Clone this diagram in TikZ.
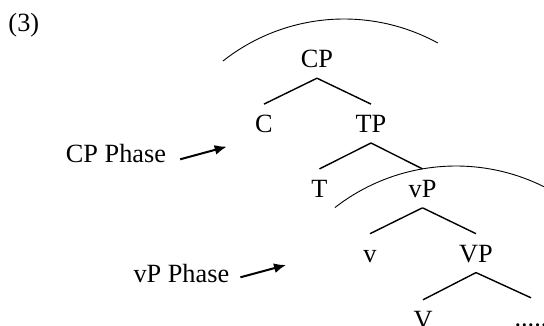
\documentclass[tikz,border=0pt]{standalone}
\usepackage{fontspec}
\setmainfont{Liberation Serif}
\usetikzlibrary{arrows.meta,positioning,calc}
\definecolor{ink}{HTML}{000000}
\tikzset{
  cat/.style={inner xsep=0pt,inner ysep=10pt,text height=18.5pt,text depth=0pt,anchor=base,text=ink,font=\fontsize{26.3}{30}\selectfont},
  branch/.style={draw=ink,line width=1.4pt},
  phasearc/.style={draw=ink,line width=0.9pt},
  phasenote/.style={inner sep=0pt,anchor=base west,text=ink,font=\fontsize{26.3}{30}\selectfont},
  phasearrow/.style={-{Latex[length=12pt,width=10pt]},line width=2pt,ink}
}

\begin{document}
\begin{tikzpicture}[x=1pt,y=1pt]
  \useasboundingbox (0,0) rectangle (544,326);
  \node[phasenote] (ex) at (8.3,294.3) {(3)};
  % tree
  \node[cat] (CP) at (317,258) {CP};
  \node[cat] (C) at (264,193.2) {C};
  \node[cat] (TP) at (371,193.2) {TP};
  \node[cat] (T) at (319.5,128.4) {T};
  \node[cat] (vP) at (422.5,128.4) {vP};
  \node[cat] (v) at (370,63.6) {v};
  \node[cat] (VP) at (476,63.6) {VP};
  \node[cat] (V) at (423,-2.5) {V};
  \node[cat] (dots) at (531,-0.5) {.....};
  \foreach \m/\d in {CP/C,CP/TP,TP/T,TP/vP,vP/v,vP/VP,VP/V,VP/dots}
    \draw[branch] (\m.south) -- (\d.north);
  % phase arcs
  \draw[phasearc] (344,111.6) ++(128.3:195.4) arc[start angle=128.3,end angle=61.3,radius=195.4];
  \draw[phasearc] (456,-37.1) ++(127.9:197.1) arc[start angle=127.9,end angle=63.5,radius=197.1];
  % labels
  \node[phasenote] (cpnote) at (65.7,163.7) {CP Phase};
  \node[phasenote] (vpnote) at (133.3,43.7) {vP Phase};
  \coordinate (cptip) at (226.7,179.3);
  \coordinate (vptip) at (286,61);
  \draw[phasearrow] ([xshift=14pt,yshift=3pt]cpnote.base east) -- (cptip);
  \draw[phasearrow] ([xshift=11pt,yshift=5pt]vpnote.base east) -- (vptip);
\end{tikzpicture}
\end{document}
